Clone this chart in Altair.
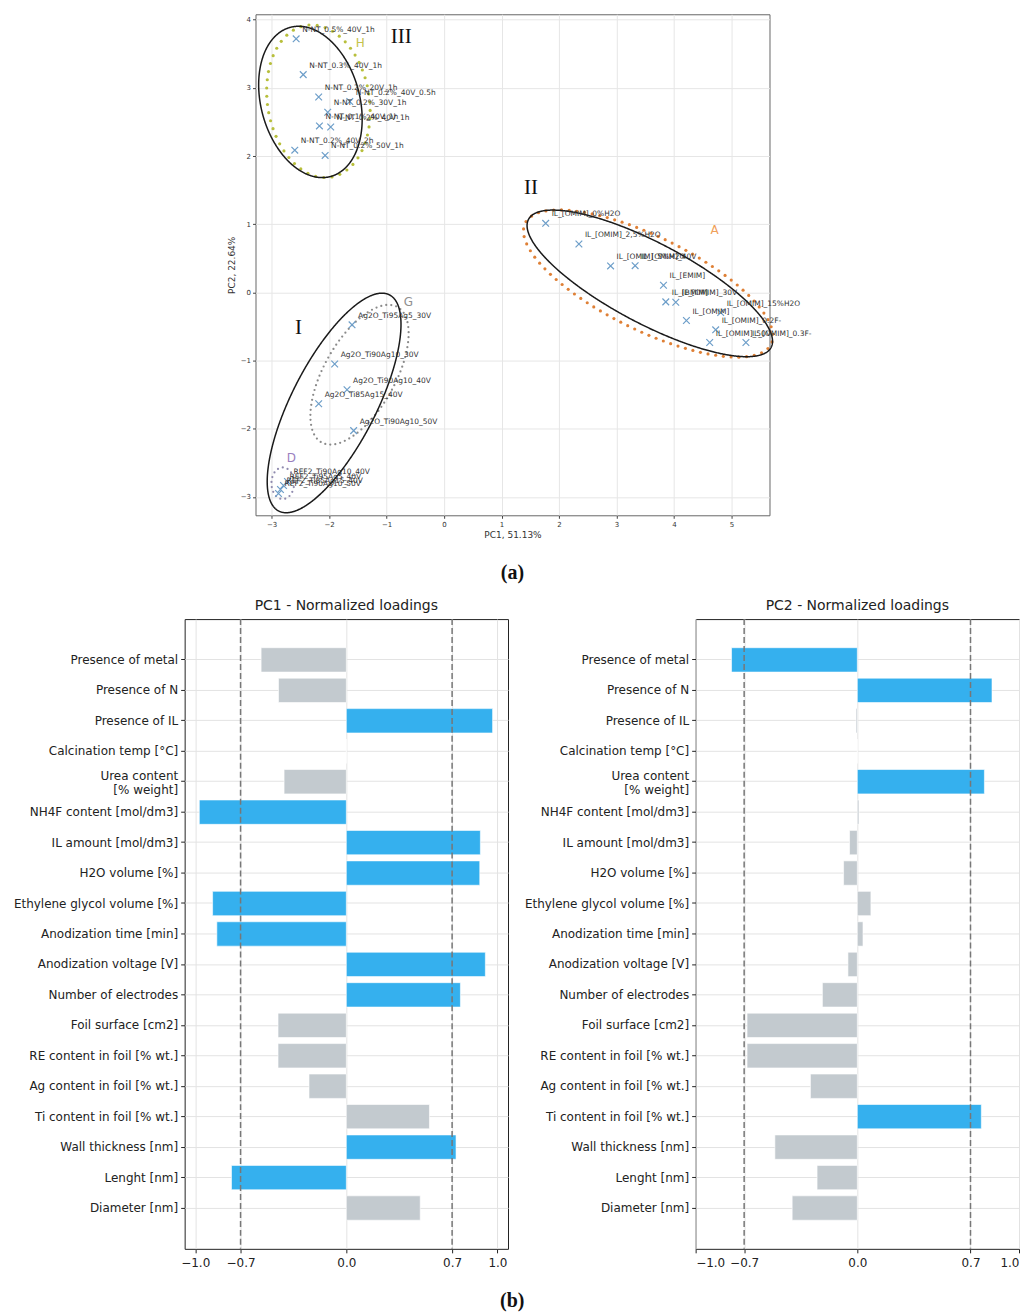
import altair as alt
import pandas as pd
import numpy as np

# ---------------- scatter (PCA scores) data ----------------
sample_names = [
    "N-NT_0.5%_40V_1h", "N-NT_0.3%_40V_1h", "N-NT_0.2%_20V_1h", "N-NT_0.2%_40V_0.5h",
    "N-NT_0.2%_30V_1h", "N-NT_0.1%_40V_1h", "N-NT_0.2%_40V_1h", "N-NT_0.2%_40V_2h",
    "N-NT_0.2%_50V_1h",
    "IL_[OMIM]_0%H2O", "IL_[OMIM]_2,5%H2O", "IL_[OMIM]_5%H2O", "IL_[OMIM]_40V",
    "IL_[EMIM]", "IL_[BMIM]", "IL_[OMIM]_30V", "IL_[OMIM]", "IL_[OMIM]_15%H2O",
    "IL_[OMIM]_0.2F-", "IL_[OMIM]_50V", "IL_[OMIM]_0.3F-",
    "Ag2O_Ti95Ag5_30V", "Ag2O_Ti90Ag10_30V", "Ag2O_Ti90Ag10_40V", "Ag2O_Ti85Ag15_40V",
    "Ag2O_Ti90Ag10_50V",
    "REF2_Ti90Ag10_40V", "REF2_Ti95Ag5_40V", "REF2_Ti85Ag15_40V", "REF2_Ti90Ag10_50V",
]
pc1_scores = [
    -2.573, -2.450, -2.181, -1.640, -2.024, -2.168, -1.972, -2.597, -2.069,
    1.767, 2.345, 2.896, 3.323, 3.816, 3.856, 4.030, 4.215, 4.811, 4.724, 4.620, 5.250,
    -1.601, -1.903, -1.688, -2.181, -1.573,
    -2.724, -2.793, -2.846, -2.880,
]
pc2_scores = [
    3.720, 3.195, 2.866, 2.800, 2.643, 2.442, 2.427, 2.086, 2.009,
    1.013, 0.710, 0.388, 0.392, 0.105, -0.139, -0.144, -0.413, -0.296, -0.549, -0.735, -0.735,
    -0.476, -1.051, -1.428, -1.633, -2.028,
    -2.774, -2.833, -2.892, -2.950,
]

# ellipses around the clusters: centre, semi-axes, rotation (deg)
ell_names = ["III", "II", "I", "H", "A", "G", "D"]
ell_cx = [-2.325, 3.578, -1.913, -2.186, 3.550, -1.471, -2.806]
ell_cy = [2.794, 0.132, -1.622, 2.804, 0.130, -1.208, -2.800]
ell_a = [1.154, 2.311, 1.858, 1.136, 2.318, 1.197, 0.232]
ell_b = [0.843, 0.611, 0.704, 0.879, 0.707, 0.590, 0.197]
ell_angle = [113.6, -23.4, 57.4, 105.6, -21.7, 53.6, 90.0]

# cluster letters and roman numerals
letters = ["H", "A", "G", "D"]
letter_x = [-1.457, 4.707, -0.623, -2.655]
letter_y = [3.653, 0.915, -0.139, -2.423]
romans = ["III", "II", "I"]
roman_x = [-0.745, 1.512, -2.533]
roman_y = [3.740, 1.530, -0.520]

# ---------------- loadings data ----------------
features = [
    "Presence of metal", "Presence of N", "Presence of IL", "Calcination temp [°C]",
    "Urea content|[% weight]", "NH4F content [mol/dm3]", "IL amount [mol/dm3]",
    "H2O volume [%]", "Ethylene glycol volume [%]", "Anodization time [min]",
    "Anodization voltage [V]", "Number of electrodes", "Foil surface [cm2]",
    "RE content in foil [% wt.]", "Ag content in foil [% wt.]", "Ti content in foil [% wt.]",
    "Wall thickness [nm]", "Lenght [nm]", "Diameter [nm]",
]
pc1_loadings = [
    -0.564, -0.449, 0.968, 0.0, -0.412, -0.973, 0.887, 0.883, -0.885, -0.857,
    0.920, 0.755, -0.452, -0.452, -0.247, 0.550, 0.726, -0.760, 0.489,
]
pc2_loadings = [
    -0.778, 0.833, -0.008, 0.0, 0.786, 0.010, -0.048, -0.085, 0.084, 0.035,
    -0.058, -0.216, -0.682, -0.682, -0.290, 0.767, -0.510, -0.249, -0.403,
]
thresholds = [-0.7, 0.7]

# ---------------- styles ----------------
FONT = "DejaVu Sans"
SERIF = "Liberation Serif"
BLUE = "#35b0ee"
GRAY = "#c3cacf"
MINUS = "replace(datum.label, '-', '\u2212')"

SW, SH = 515, 502
XDOM = [-3.28, 5.66]
YDOM = [-3.27, 4.08]
KX = SW / (XDOM[1] - XDOM[0])
KY = SH / (YDOM[1] - YDOM[0])

ell_style = {
    "III": ("line", "#1a1a1a", 0, 0), "II": ("line", "#1a1a1a", 0, 0),
    "I": ("line", "#1a1a1a", 0, 0),
    "H": ("dot", "#b8bf3c", 8.2, 10), "A": ("dot", "#df8036", 7.7, 10),
    "G": ("dot", "#8a8a8a", 5.0, 5), "D": ("dot", "#8f8aae", 5.0, 5),
}
letter_colors = ["#c3c24a", "#f0a05a", "#909090", "#9a7fbf"]


def ellipse_outline(cx, cy, a, b, ang, n=721):
    t = np.linspace(0, 2 * np.pi, n)
    th = np.deg2rad(ang)
    x = cx + a * np.cos(t) * np.cos(th) - b * np.sin(t) * np.sin(th)
    y = cy + a * np.cos(t) * np.sin(th) + b * np.sin(t) * np.cos(th)
    return x, y


def resample(x, y, spacing):
    d = np.hypot(np.diff(x * KX), np.diff(y * KY))
    s = np.concatenate([[0.0], np.cumsum(d)])
    n = max(int(s[-1] // spacing), 3)
    tgt = np.arange(n) * (s[-1] / n)
    return np.interp(tgt, s, x), np.interp(tgt, s, y)


line_rows, dot_rows = [], []
for name, cx, cy, a, b, ang in zip(ell_names, ell_cx, ell_cy, ell_a, ell_b, ell_angle):
    kind, col, spacing, size = ell_style[name]
    ex, ey = ellipse_outline(cx, cy, a, b, ang)
    if kind == "line":
        for i, (px, py) in enumerate(zip(ex, ey)):
            line_rows.append({"x": px, "y": py, "g": name, "i": i})
    else:
        dx, dy = resample(ex, ey, spacing)
        for px, py in zip(dx, dy):
            dot_rows.append({"x": px, "y": py, "c": col, "s": size})

lines_df = pd.DataFrame(line_rows)
dots_df = pd.DataFrame(dot_rows)
pts_df = pd.DataFrame({"x": pc1_scores, "y": pc2_scores, "name": sample_names})
let_df = pd.DataFrame({"x": letter_x, "y": letter_y, "t": letters, "c": letter_colors})
rom_df = pd.DataFrame({"x": roman_x, "y": roman_y, "t": romans})

xs = alt.Scale(domain=XDOM, nice=False, zero=False)
ys = alt.Scale(domain=YDOM, nice=False, zero=False)
x_axis = alt.Axis(values=list(range(-3, 6)), title="PC1, 51.13%", labelExpr=MINUS,
                  labelFontSize=7, titleFontSize=9, titleFontWeight="normal",
                  grid=True, gridColor="#e6e6e6", tickSize=3, labelPadding=2,
                  titlePadding=3, domain=False, labelColor="#333", titleColor="#333",
                  tickColor="#444")
y_axis = alt.Axis(values=list(range(-3, 5)), title="PC2, 22.64%", labelExpr=MINUS,
                  labelFontSize=7, titleFontSize=9, titleFontWeight="normal",
                  grid=True, gridColor="#e6e6e6", tickSize=3, labelPadding=2,
                  titlePadding=4, domain=False, labelColor="#333", titleColor="#333",
                  tickColor="#444")
X = alt.X("x:Q", scale=xs, axis=x_axis)
Y = alt.Y("y:Q", scale=ys, axis=y_axis)

ell_lines = alt.Chart(lines_df).mark_line(stroke="#1a1a1a", strokeWidth=1.5).encode(
    x=X, y=Y, detail="g:N", order="i:Q")
ell_dots = alt.Chart(dots_df).mark_circle(opacity=1).encode(
    x=X, y=Y, color=alt.Color("c:N", scale=None), size=alt.Size("s:Q", scale=None))
markers = alt.Chart(pts_df).mark_point(
    shape="M-1,-1L1,1M-1,1L1,-1", filled=False, color="#6d9ec9", strokeWidth=1.2,
    size=45, opacity=1).encode(x=X, y=Y)
labels = alt.Chart(pts_df).mark_text(
    align="left", baseline="alphabetic", dx=6, dy=-7, fontSize=7.5, font=FONT,
    color="#333").encode(x=X, y=Y, text="name:N")
let_text = alt.Chart(let_df).mark_text(fontSize=12, font=FONT).encode(
    x=X, y=Y, text="t:N", color=alt.Color("c:N", scale=None))
rom_text = alt.Chart(rom_df).mark_text(fontSize=21, font=SERIF, color="#111").encode(
    x=X, y=Y, text="t:N")

scatter = alt.layer(ell_dots, ell_lines, markers, labels, let_text, rom_text).properties(
    width=SW, height=SH,
    view=alt.ViewBackground(stroke="#666", strokeWidth=1),
    title=alt.TitleParams("(a)", orient="bottom", anchor="middle", frame="group",
                          font=SERIF, fontSize=20, fontWeight="bold", offset=24,
                          color="#111"),
)

spacer = alt.Chart(pd.DataFrame({"v": [0]})).mark_point(opacity=0).encode(
    x=alt.X("v:Q", axis=None), y=alt.Y("v:Q", axis=None)).properties(
    width=42, height=10, view=alt.ViewBackground(stroke=None))


def bar_panel(vals, title, domain, min_extent):
    df = pd.DataFrame({"feature": features, "v": vals, "z": [0.0] * len(features)})
    df["c"] = [BLUE if abs(v) >= 0.7 else GRAY for v in vals]
    xsc = alt.Scale(domain=domain, nice=False, zero=False)
    xax = alt.Axis(values=[-1.0, -0.7, 0.0, 0.7, 1.0], format=".1f", labelExpr=MINUS,
                   title=None, grid=True, gridColor="#e3e3e3", labelFontSize=12,
                   labelColor="#222", tickSize=4, labelPadding=5, domain=False,
                   tickColor="#222")
    yax = alt.Axis(title=None, grid=True, gridColor="#e3e3e3", labelFontSize=12,
                   labelColor="#222", tickSize=4, labelPadding=3, domain=False,
                   labelExpr="split(datum.label, '|')", labelLimit=400,
                   labelOffset={"condition": {"test": "indexof(datum.value, '|') >= 0",
                                              "value": -6}, "value": 0},
                   minExtent=min_extent, tickColor="#222")
    bars = alt.Chart(df).mark_bar(stroke="white", strokeWidth=1, strokeOpacity=0.6).encode(
        x=alt.X("v:Q", scale=xsc, axis=xax),
        x2="z:Q",
        y=alt.Y("feature:N", sort=features,
                scale=alt.Scale(paddingInner=0.2, paddingOuter=0.94), axis=yax),
        color=alt.Color("c:N", scale=None),
    )
    rules = alt.Chart(pd.DataFrame({"v": thresholds})).mark_rule(
        color="#777", strokeDash=[6, 3], strokeWidth=1.5).encode(
        x=alt.X("v:Q", scale=xsc, axis=xax))
    return alt.layer(bars, rules).properties(
        width=324, height=631,
        view=alt.ViewBackground(stroke="#222", strokeWidth=1),
        title=alt.TitleParams(title, fontSize=14, font=FONT, fontWeight="normal",
                              anchor="middle", frame="group", offset=5, color="#222"),
    )


bar1 = bar_panel(pc1_loadings, "PC1 - Normalized loadings", [-1.07, 1.07], 174)
bar2 = bar_panel(pc2_loadings, "PC2 - Normalized loadings", [-1.0, 1.0], 176)

chart = alt.vconcat(
    alt.hconcat(spacer, scatter, spacing=0),
    alt.hconcat(bar1, bar2, spacing=10),
    spacing=14,
).properties(
    padding={"left": 2, "top": 4, "right": 0, "bottom": 2},
    title=alt.TitleParams("(b)", orient="bottom", anchor="middle", font=SERIF,
                          fontSize=20, fontWeight="bold", offset=22, color="#111",
                          dx=-3),
).configure_axis(
    labelFont=FONT, titleFont=FONT,
).configure_view(stroke="#222")

chart.save("out.html", embed_options={"renderer": "svg", "actions": False})
